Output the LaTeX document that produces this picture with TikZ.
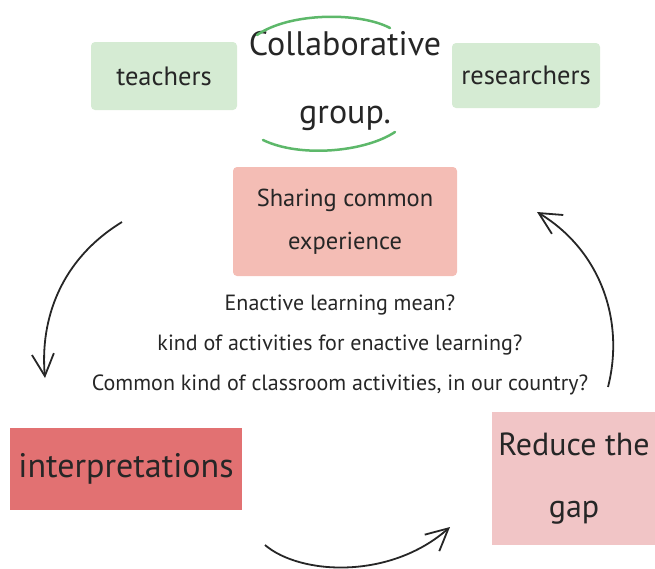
\documentclass[tikz,border=0pt]{standalone}
\usepackage{fontspec}
\setmainfont{PT Sans}
\usetikzlibrary{arrows.meta}
\definecolor{softgreen}{HTML}{D5EBD3}
\definecolor{penline}{HTML}{5DB86A}
\definecolor{salmon}{HTML}{F4BDB5}
\definecolor{deepred}{HTML}{E27172}
\definecolor{palerose}{HTML}{F1C5C6}
\definecolor{ink}{HTML}{262626}
\begin{document}
\begin{tikzpicture}[x=1pt,y=-1pt,
        card/.style={inner sep=0pt, align=center, text=ink},
        loop/.style={draw=ink, line width=1.8pt, -{Straight Barb[length=22pt,width=22pt,line width=1.8pt]}}]
    \useasboundingbox (0,0) rectangle (655,568);
    % top row
    \node[card, fill=softgreen, rounded corners=4pt, minimum width=146pt, minimum height=68pt,
          font=\fontsize{26.5}{30}\selectfont] (teachers) at (164,76) {teachers};
    \node[card, fill=softgreen, rounded corners=4pt, minimum width=148pt, minimum height=65pt,
          font=\fontsize{26.5}{30}\selectfont] (researchers) at (526,75.5) {researchers};
    \node[card, font=\fontsize{34}{68}\selectfont] (group) at (345,81) {Collaborative\\group.};
    \draw[penline, line width=2.5pt, line cap=round] (257,35) .. controls (290,12) and (360,12) .. (390,28);
    \draw[penline, line width=2.5pt, line cap=round] (263,140) .. controls (300,158) and (365,152) .. (395,132);
    % middle
    \node[card, fill=salmon, rounded corners=4pt, minimum width=224pt, minimum height=109pt,
          font=\fontsize{24.5}{43}\selectfont] (sharing) at (345,221.5) {Sharing common\\experience};
    \node[card, font=\fontsize{22}{40}\selectfont] (questions) at (340,345)
        {Enactive learning mean?\\kind of activities for enactive learning?\\Common kind of classroom activities, in our country?};
    % bottom row
    \node[card, fill=deepred, minimum width=232pt, minimum height=82pt,
          font=\fontsize{34}{40}\selectfont] (interp) at (126,469) {interpretations};
    \node[card, fill=palerose, minimum width=164pt, minimum height=133pt,
          font=\fontsize{32}{62}\selectfont] (gap) at (574,478.5) {Reduce the\\gap};
    % cycle arrows
    \coordinate (left-a) at (122,222);
    \coordinate (left-b) at (45,378);
    \coordinate (bot-a) at (265,545);
    \coordinate (bot-b) at (450,527);
    \coordinate (right-a) at (608,387);
    \coordinate (right-b) at (537,212);
    \draw[loop] (left-a) .. controls (60,260) and (40,320) .. (left-b);
    \draw[loop] (bot-a) .. controls (300,575) and (390,580) .. (bot-b);
    \draw[loop] (right-a) .. controls (625,320) and (600,250) .. (right-b);
\end{tikzpicture}
\end{document}
